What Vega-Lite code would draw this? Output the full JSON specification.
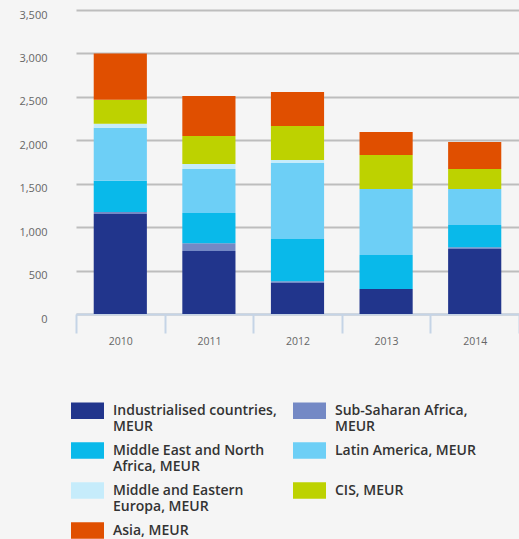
{
  "$schema": "https://vega.github.io/schema/vega-lite/v6.json",
  "width": 443,
  "height": 304,
  "autosize": "none",
  "padding": {"left": 76, "top": 10, "right": 0, "bottom": 225},
  "background": "#f5f5f5",
  "config": {
    "view": {"stroke": null},
    "font": "Open Sans"
  },
  "data": {
    "values": [
      {"year": "2010", "region": "Industrialised countries, MEUR", "value": 1150},
      {"year": "2010", "region": "Sub-Saharan Africa, MEUR", "value": 25},
      {"year": "2010", "region": "Middle East and North Africa, MEUR", "value": 360},
      {"year": "2010", "region": "Latin America, MEUR", "value": 610},
      {"year": "2010", "region": "Middle and Eastern Europa, MEUR", "value": 46},
      {"year": "2010", "region": "CIS, MEUR", "value": 277},
      {"year": "2010", "region": "Asia, MEUR", "value": 530},
      {"year": "2011", "region": "Industrialised countries, MEUR", "value": 725},
      {"year": "2011", "region": "Sub-Saharan Africa, MEUR", "value": 89},
      {"year": "2011", "region": "Middle East and North Africa, MEUR", "value": 349},
      {"year": "2011", "region": "Latin America, MEUR", "value": 506},
      {"year": "2011", "region": "Middle and Eastern Europa, MEUR", "value": 58},
      {"year": "2011", "region": "CIS, MEUR", "value": 322},
      {"year": "2011", "region": "Asia, MEUR", "value": 461},
      {"year": "2012", "region": "Industrialised countries, MEUR", "value": 357},
      {"year": "2012", "region": "Sub-Saharan Africa, MEUR", "value": 19},
      {"year": "2012", "region": "Middle East and North Africa, MEUR", "value": 487},
      {"year": "2012", "region": "Latin America, MEUR", "value": 875},
      {"year": "2012", "region": "Middle and Eastern Europa, MEUR", "value": 35},
      {"year": "2012", "region": "CIS, MEUR", "value": 391},
      {"year": "2012", "region": "Asia, MEUR", "value": 392},
      {"year": "2013", "region": "Industrialised countries, MEUR", "value": 288},
      {"year": "2013", "region": "Sub-Saharan Africa, MEUR", "value": 0},
      {"year": "2013", "region": "Middle East and North Africa, MEUR", "value": 391},
      {"year": "2013", "region": "Latin America, MEUR", "value": 760},
      {"year": "2013", "region": "Middle and Eastern Europa, MEUR", "value": 0},
      {"year": "2013", "region": "CIS, MEUR", "value": 392},
      {"year": "2013", "region": "Asia, MEUR", "value": 264},
      {"year": "2014", "region": "Industrialised countries, MEUR", "value": 748},
      {"year": "2014", "region": "Sub-Saharan Africa, MEUR", "value": 20},
      {"year": "2014", "region": "Middle East and North Africa, MEUR", "value": 257},
      {"year": "2014", "region": "Latin America, MEUR", "value": 414},
      {"year": "2014", "region": "Middle and Eastern Europa, MEUR", "value": 0},
      {"year": "2014", "region": "CIS, MEUR", "value": 230},
      {"year": "2014", "region": "Asia, MEUR", "value": 311}
    ]
  },
  "transform": [
    {"calculate": "indexof(['Industrialised countries, MEUR','Sub-Saharan Africa, MEUR','Middle East and North Africa, MEUR','Latin America, MEUR','Middle and Eastern Europa, MEUR','CIS, MEUR','Asia, MEUR'], datum.region)", "as": "k"}
  ],
  "mark": {"type": "bar", "width": {"band": 0.6}},
  "encoding": {
    "x": {
      "field": "year", "type": "ordinal",
      "scale": {"paddingInner": 0, "paddingOuter": 0},
      "axis": {
        "title": null, "labelAngle": 0, "tickBand": "extent",
        "domainColor": "#c5d4e6", "domainWidth": 2, "tickColor": "#c5d4e6", "tickWidth": 2, "tickSize": 19,
        "labelPadding": 3, "labelFontSize": 10.5, "labelColor": "#666666", "labelFont": "Open Sans"
      }
    },
    "y": {
      "field": "value", "type": "quantitative", "aggregate": "sum",
      "scale": {"domain": [0, 3500], "nice": false},
      "axis": {
        "title": null, "values": [0, 500, 1000, 1500, 2000, 2500, 3000, 3500], "format": ",.0f",
        "domain": false, "ticks": false, "labelPadding": 29, "labelOffset": 5,
        "gridColor": "#bdbdbd", "gridWidth": 2, "labelFontSize": 11, "labelColor": "#666666"
      }
    },
    "order": {"field": "k", "type": "quantitative", "sort": "ascending"},
    "color": {
      "field": "region", "type": "nominal",
      "scale": {
        "domain": ["Industrialised countries, MEUR", "Sub-Saharan Africa, MEUR", "Middle East and North Africa, MEUR", "Latin America, MEUR", "Middle and Eastern Europa, MEUR", "CIS, MEUR", "Asia, MEUR"],
        "range": ["#21358c", "#7489c5", "#09b9ea", "#6dcff6", "#c6ecfb", "#bdd200", "#e04f00"]
      },
      "legend": {
        "title": null, "orient": "none", "legendX": -5, "legendY": 384,
        "direction": "horizontal", "columns": 2, "columnPadding": 16, "rowPadding": -7,
        "symbolType": "M-1,-0.5H1V0.5H-1Z", "symbolSize": 1089, "symbolStrokeWidth": 0, "symbolOpacity": 1,
        "labelFontSize": 14, "labelFontWeight": 600, "labelColor": "#333333", "labelLimit": 300, "labelOffset": 9,
        "labelBaseline": "middle",
        "encode": {"labels": {"update": {"lineHeight": {"value": 16}}}},
        "labelExpr": "datum.label == 'Industrialised countries, MEUR' ? ['Industrialised countries,','MEUR'] : datum.label == 'Sub-Saharan Africa, MEUR' ? ['Sub-Saharan Africa,','MEUR'] : datum.label == 'Middle East and North Africa, MEUR' ? ['Middle East and North','Africa, MEUR'] : datum.label == 'Middle and Eastern Europa, MEUR' ? ['Middle and Eastern','Europa, MEUR'] : [datum.label, ' ']"
      }
    }
  }
}
